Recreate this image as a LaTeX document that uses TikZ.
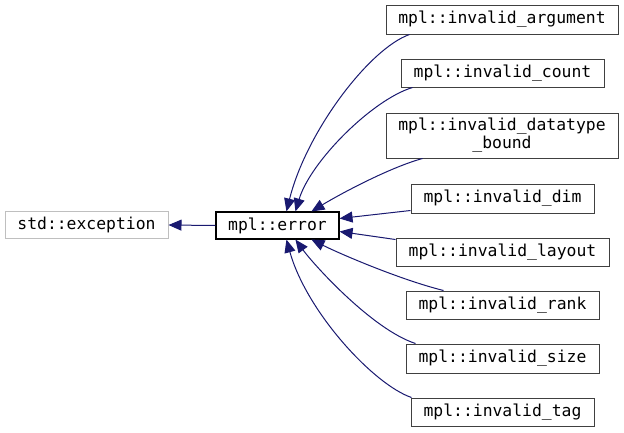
\documentclass[tikz,border=0pt]{standalone}
\usepackage{fontspec}
\setmonofont{DejaVu Sans Mono}
\usetikzlibrary{arrows.meta,calc}
\definecolor{edgeblue}{HTML}{191970}
\definecolor{lightgrayb}{HTML}{BFBFBF}
\definecolor{darkb}{HTML}{404040}
\begin{document}
\begin{tikzpicture}[x=1pt,y=-1pt,
  cls/.style={draw=darkb,line width=1pt,fill=white,inner sep=0pt,font=\fontsize{16.4}{18}\selectfont\ttfamily,align=center},
  inh/.style={draw=edgeblue,line width=1pt,-{Triangle[length=13pt,width=11pt]}}]
\useasboundingbox (0,0) rectangle (624,432);
\node[cls,draw=lightgrayb,minimum width=163pt,minimum height=27pt] (exc) at (86.5,225) {std::exception};
\node[cls,draw=black,line width=1.1pt,minimum width=123pt,minimum height=27pt] (err) at (277.5,225.5) {mpl::error};
\node[cls,minimum width=232pt,minimum height=29pt] (arg) at (502,19.5) {mpl::invalid\_argument};
\node[cls,minimum width=203pt,minimum height=28pt] (cnt) at (502.5,73) {mpl::invalid\_count};
\node[cls,minimum width=232pt,minimum height=45pt] (dtb) at (502,135.5) {mpl::invalid\_datatype\\\_bound};
\node[cls,minimum width=183pt,minimum height=29pt] (dim) at (502.5,198.5) {mpl::invalid\_dim};
\node[cls,minimum width=213pt,minimum height=28pt] (lay) at (502.5,252) {mpl::invalid\_layout};
\node[cls,minimum width=193pt,minimum height=28pt] (rnk) at (502.5,305) {mpl::invalid\_rank};
\node[cls,minimum width=193pt,minimum height=29pt] (siz) at (502.5,358.5) {mpl::invalid\_size};
\node[cls,minimum width=183pt,minimum height=28pt] (tag) at (502.5,412) {mpl::invalid\_tag};
\draw[inh] (err.west) -- (exc.east);
\draw[inh] ($(arg.south west)+(24,0)$) .. controls +(-40,14) and +(20,-80) .. ($(err.north west)+(71,0)$);
\draw[inh] ($(cnt.south west)+(12,0)$) .. controls +(-40,12) and +(15,-50) .. ($(err.north west)+(80,0)$);
\draw[inh] ($(dtb.south west)+(37,0)$) .. controls +(-33,9) and +(28,-17) .. ($(err.north west)+(96,0)$);
\draw[inh] ($(dim.south west)+(0,-3)$) -- ($(err.east)+(0,-7)$);
\draw[inh] ($(lay.north west)+(0,2)$) -- ($(err.east)+(0,6)$);
\draw[inh] ($(rnk.north west)+(38,0)$) .. controls +(-44,-11) and +(28,14) .. ($(err.south west)+(96,0)$);
\draw[inh] ($(siz.north west)+(10,0)$) .. controls +(-43,-14) and +(19,26) .. ($(err.south west)+(80,0)$);
\draw[inh] ($(tag.north west)+(1,0)$) .. controls +(-38,-13) and +(20,72) .. ($(err.south west)+(71,0)$);
\end{tikzpicture}
\end{document}
